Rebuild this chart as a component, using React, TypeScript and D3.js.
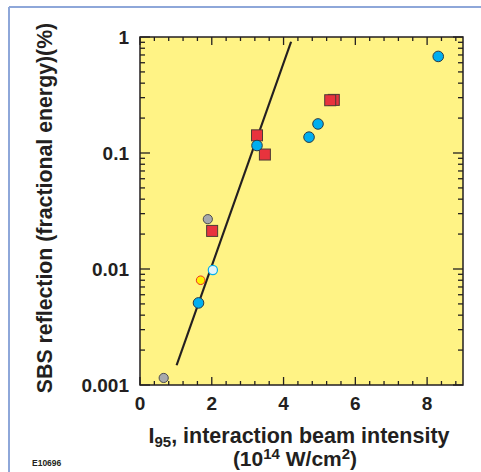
import React from 'react';
import * as d3 from 'd3';

// values
const blueX = [1.63, 3.26, 4.71, 4.96, 8.31];
const blueY = [0.0051, 0.116, 0.137, 0.178, 0.68];
const redX = [2.01, 3.26, 3.48, 5.4, 5.3];
const redY = [0.0213, 0.142, 0.097, 0.287, 0.285];
const grayX = [0.66, 1.89];
const grayY = [0.00115, 0.0269];
const yellowX = [1.69];
const yellowY = [0.008];
const paleX = [2.03];
const paleY = [0.0098];
const fitX = [1.02, 4.21];
const fitY = [0.00148, 0.91];

const xTicks = [0, 2, 4, 6, 8];
const yTicks = [0.001, 0.01, 0.1, 1];
const yTickLabels = ['0.001', '0.01', '0.1', '1'];

const W = 481;
const H = 472;
const left = 140;
const right = 463;
const top = 37;
const bottom = 385;

const ink = '#231f20';
const font = 'Liberation Sans, Arial, Helvetica, sans-serif';

export default function App() {
  const x = d3.scaleLinear().domain([0, 9]).range([left, right]);
  const y = d3.scaleLog().domain([0.001, 1]).range([bottom, top]);

  const xMinor = d3.range(0, 9.01, 0.4).filter((v) => Math.abs(v / 2 - Math.round(v / 2)) > 0.01);
  const yMinor: number[] = [];
  [0.001, 0.01, 0.1].forEach((d) => {
    for (let k = 2; k <= 9; k++) yMinor.push(d * k);
  });

  const line = d3
    .line<number>()
    .x((_, i) => x(fitX[i]))
    .y((_, i) => y(fitY[i]));

  const sq = 11;

  return (
    <svg width={W} height={H} style={{ position: 'absolute', left: 0, top: 0 }}>
      <rect x={0} y={0} width={W} height={H} fill="#fff" />
      {/* frame */}
      <line x1={9} y1={7} x2={W} y2={7} stroke="#8ea7d9" strokeWidth={2} />
      <line x1={9} y1={7} x2={9} y2={H} stroke="#8ea7d9" strokeWidth={2} />

      <rect x={left} y={top} width={right - left} height={bottom - top} fill="#fff385" />

      {/* ticks, all four sides, inward */}
      <g stroke={ink} strokeWidth={1.3}>
        {xTicks.map((t) => (
          <g key={'xm' + t}>
            <line x1={x(t)} x2={x(t)} y1={bottom} y2={bottom - 8} />
            <line x1={x(t)} x2={x(t)} y1={top} y2={top + 8} />
          </g>
        ))}
        {xMinor.map((t) => (
          <g key={'xn' + t}>
            <line x1={x(t)} x2={x(t)} y1={bottom} y2={bottom - 4} />
            <line x1={x(t)} x2={x(t)} y1={top} y2={top + 4} />
          </g>
        ))}
        {yTicks.map((t) => (
          <g key={'ym' + t}>
            <line x1={left} x2={left + 10} y1={y(t)} y2={y(t)} />
            <line x1={right} x2={right - 10} y1={y(t)} y2={y(t)} />
          </g>
        ))}
        {yMinor.map((t) => (
          <g key={'yn' + t}>
            <line x1={left} x2={left + 5} y1={y(t)} y2={y(t)} />
            <line x1={right} x2={right - 5} y1={y(t)} y2={y(t)} />
          </g>
        ))}
      </g>

      <rect x={left} y={top} width={right - left} height={bottom - top} fill="none" stroke={ink} strokeWidth={1.5} />

      {/* fit line */}
      <path d={line(fitX) || ''} fill="none" stroke={ink} strokeWidth={2.2} />

      {/* markers */}
      {grayX.map((v, i) => (
        <circle key={'g' + i} cx={x(v)} cy={y(grayY[i])} r={4.6} fill="#a7a9ac" stroke="#4d4d4f" strokeWidth={1} />
      ))}
      {redX.map((v, i) => (
        <rect
          key={'r' + i}
          x={x(v) - sq / 2}
          y={y(redY[i]) - sq / 2}
          width={sq}
          height={sq}
          fill="#e8333d"
          stroke="#4d3a35"
          strokeWidth={1}
        />
      ))}
      {blueX.map((v, i) => (
        <circle key={'b' + i} cx={x(v)} cy={y(blueY[i])} r={5.3} fill="#00aeef" stroke="#2b3a45" strokeWidth={1} />
      ))}
      {yellowX.map((v, i) => (
        <circle key={'yl' + i} cx={x(v)} cy={y(yellowY[i])} r={4.3} fill="#fff200" stroke="#ed3124" strokeWidth={1} />
      ))}
      {paleX.map((v, i) => (
        <circle key={'p' + i} cx={x(v)} cy={y(paleY[i])} r={4.6} fill="#e3f4fb" stroke="#00aeef" strokeWidth={1.2} />
      ))}

      {/* tick labels */}
      <g fontFamily={font} fontWeight="bold" fontSize={19} fill={ink}>
        {xTicks.map((t) => (
          <text key={'xl' + t} x={x(t)} y={410} textAnchor="middle">
            {t}
          </text>
        ))}
        {yTicks.map((t, i) => (
          <text key={'yl' + t} x={129} y={y(t) + 7} textAnchor="end">
            {yTickLabels[i]}
          </text>
        ))}
      </g>

      {/* axis titles */}
      <text
        transform={`translate(52,208) rotate(-90)`}
        textAnchor="middle"
        fontFamily={font}
        fontWeight="bold"
        fontSize={21.3}
        fill={ink}
      >
        SBS reflection  (fractional energy)(%)
      </text>
      <text x={299} y={443} textAnchor="middle" fontFamily={font} fontWeight="bold" fontSize={21.5} fill={ink}>
        I<tspan fontSize={15} dy={4}>95</tspan>
        <tspan dy={-4}>, interaction beam intensity</tspan>
      </text>
      <text x={295} y={466} textAnchor="middle" fontFamily={font} fontWeight="bold" fontSize={21} fill={ink}>
        (10<tspan fontSize={15} dy={-7}>14</tspan>
        <tspan dy={7}> W/cm</tspan>
        <tspan fontSize={15} dy={-7}>2</tspan>
        <tspan dy={7}>)</tspan>
      </text>

      <text x={32} y={466} fontFamily={font} fontWeight="bold" fontSize={8.5} fill={ink}>
        E10696
      </text>
    </svg>
  );
}
